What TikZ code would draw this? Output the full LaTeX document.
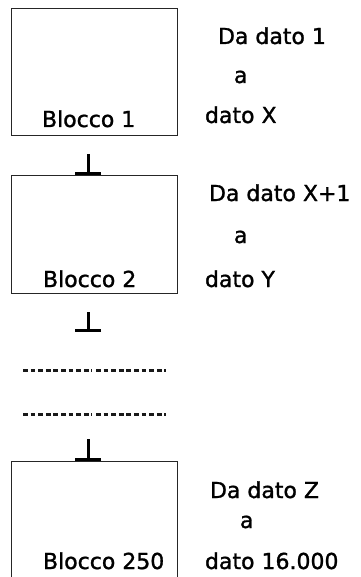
\documentclass[tikz,border=0pt]{standalone}
\usepackage{fontspec}
\setmainfont{DejaVu Sans}
\newfontfamily\heavyfont{DejaVu Sans}[FakeBold=1.3]
\usetikzlibrary{arrows.meta}
\begin{document}
\begin{tikzpicture}[x=1pt,y=-1pt,
  blk/.style={draw=black!85, line width=0.9pt, inner sep=0pt, outer sep=0pt, minimum width=166pt},
  lbl/.style={anchor=base west, inner sep=0pt, outer sep=0pt, font=\heavyfont\fontsize{22}{26}\selectfont},
  tack/.style={line width=3pt, -{Bar[width=26pt,line width=2.6pt]}},
  dots/.style={line width=3pt, black!90, dash pattern=on 4.7pt off 2.9pt}
]
\useasboundingbox (0,0) rectangle (360,577);
\clip (0,0) rectangle (360,577);
\fill[white] (0,0) rectangle (360,577);

% blocks
\node[blk, minimum height=127pt] (b1) at (94,71.5) {};
\node[blk, minimum height=118pt] (b2) at (94,234) {};
\node[blk, minimum height=139pt] (b3) at (94,530.5) {};

% labels inside blocks
\node[lbl] (l1) at (42,127) {Blocco 1};
\node[lbl] (l2) at (43,287) {Blocco 2};
\node[lbl] (l3) at (43,569) {Blocco 250};

% side texts
\node[lbl] (d1a) at (218,44) {Da dato 1};
\node[lbl] (d1b) at (234,83) {a};
\node[lbl] (d1c) at (205,123) {dato X};

\node[lbl] (d2a) at (209,201) {Da dato X+1};
\node[lbl] (d2b) at (234,243) {a};
\node[lbl] (d2c) at (205,287) {dato Y};

\node[lbl] (d3a) at (210,498) {Da dato Z};
\node[lbl] (d3b) at (240,528) {a};
\node[lbl] (d3c) at (205,569) {dato 16.000};

% tacks
\coordinate (t1) at (88,154);
\draw[tack] (t1) -- (t1 |- b2.north);
\coordinate (t2s) at (88,312);
\coordinate (t2e) at (88,332);
\draw[tack] (t2s) -- (t2e);
\coordinate (t3) at (88,439);
\draw[tack] (t3) -- (t3 |- b3.north);

% dotted lines
\coordinate (p1) at (23,370);
\coordinate (p2) at (92,370);
\coordinate (p3) at (96,370);
\coordinate (p4) at (166,370);
\draw[dots] (p1) -- (p2);
\draw[dots] (p3) -- (p4);
\coordinate (q1) at (23,414);
\coordinate (q2) at (92,414);
\coordinate (q3) at (96,414);
\coordinate (q4) at (166,414);
\draw[dots] (q1) -- (q2);
\draw[dots] (q3) -- (q4);
\end{tikzpicture}
\end{document}
